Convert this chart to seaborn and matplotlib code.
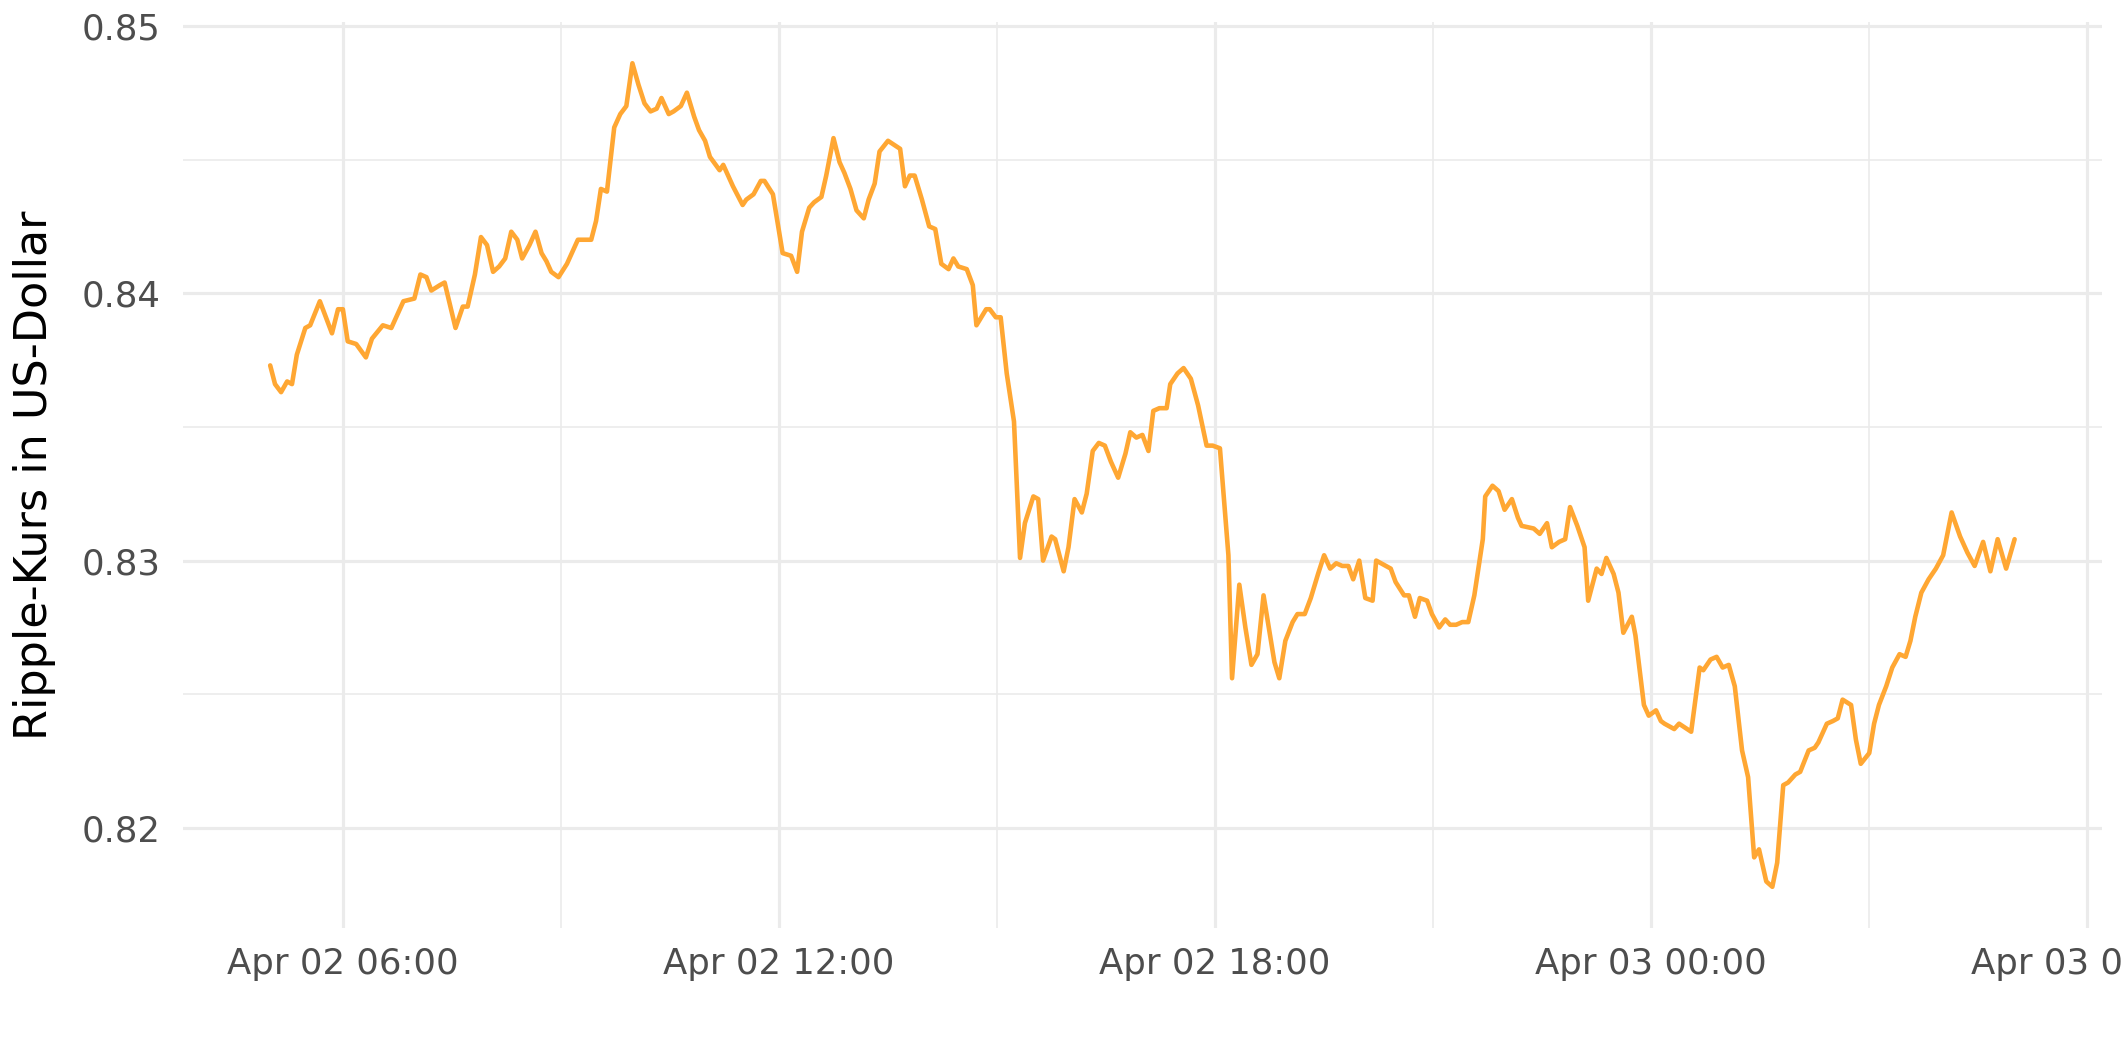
import numpy as np
import pandas as pd
import matplotlib.pyplot as plt
import matplotlib.dates as mdates
from matplotlib.ticker import MultipleLocator, FormatStrFormatter
import seaborn as sns

# Ripple price (timestamps in local time)
apr02_times = ["05:00", "05:04", "05:09", "05:14", "05:18", "05:22", "05:29", "05:33", "05:41", "05:51",
               "05:56", "06:00", "06:04", "06:11", "06:19", "06:24", "06:33", "06:40", "06:50", "06:59",
               "07:04", "07:09", "07:13", "07:20", "07:24", "07:33", "07:39", "07:43", "07:49", "07:54",
               "07:59", "08:04", "08:09", "08:14", "08:19", "08:24", "08:28", "08:34", "08:39", "08:44",
               "08:48", "08:52", "08:58", "09:05", "09:14", "09:25", "09:29", "09:33", "09:38", "09:44",
               "09:49", "09:54", "09:59", "10:04", "10:09", "10:14", "10:19", "10:23", "10:29", "10:33",
               "10:39", "10:44", "10:50", "10:54", "10:59", "11:03", "11:11", "11:14", "11:22", "11:30",
               "11:33", "11:39", "11:45", "11:48", "11:55", "12:03", "12:10", "12:15", "12:19", "12:25",
               "12:29", "12:35", "12:39", "12:45", "12:50", "12:54", "12:59", "13:04", "13:10", "13:14",
               "13:19", "13:23", "13:30", "13:40", "13:44", "13:48", "13:52", "13:58", "14:04", "14:09",
               "14:14", "14:20", "14:24", "14:28", "14:35", "14:40", "14:43", "14:51", "14:54", "14:59",
               "15:03", "15:08", "15:14", "15:19", "15:23", "15:30", "15:34", "15:38", "15:45", "15:48",
               "15:55", "15:59", "16:04", "16:10", "16:14", "16:19", "16:24", "16:29", "16:34", "16:40",
               "16:46", "16:50", "16:55", "17:00", "17:05", "17:09", "17:14", "17:20", "17:23", "17:29",
               "17:34", "17:40", "17:46", "17:53", "17:58", "18:04", "18:11", "18:14", "18:20", "18:25",
               "18:30", "18:35", "18:40", "18:49", "18:53", "18:58", "19:04", "19:08", "19:14", "19:19",
               "19:25", "19:30", "19:35", "19:40", "19:45", "19:50", "19:54", "19:59", "20:04", "20:10",
               "20:13", "20:17", "20:25", "20:29", "20:36", "20:40", "20:45", "20:49", "20:55", "20:59",
               "21:05", "21:10", "21:14", "21:19", "21:24", "21:29", "21:34", "21:38", "21:41", "21:43",
               "21:49", "21:54", "21:59", "22:05", "22:10", "22:13", "22:23", "22:28", "22:34", "22:38",
               "22:44", "22:49", "22:53", "22:59", "23:02", "23:05", "23:08", "23:15", "23:19", "23:23",
               "23:29", "23:33", "23:37", "23:44", "23:47", "23:54", "23:58"]
apr02_prices = [0.8373, 0.8366, 0.8363, 0.8367, 0.8366, 0.8377, 0.8387, 0.8388, 0.8397, 0.8385,
                0.8394, 0.8394, 0.8382, 0.8381, 0.8376, 0.8383, 0.8388, 0.8387, 0.8397, 0.8398,
                0.8407, 0.8406, 0.8401, 0.8403, 0.8404, 0.8387, 0.8395, 0.8395, 0.8407, 0.8421,
                0.8418, 0.8408, 0.8410, 0.8413, 0.8423, 0.8420, 0.8413, 0.8418, 0.8423, 0.8415,
                0.8412, 0.8408, 0.8406, 0.8411, 0.8420, 0.8420, 0.8427, 0.8439, 0.8438, 0.8462,
                0.8467, 0.8470, 0.8486, 0.8478, 0.8471, 0.8468, 0.8469, 0.8473, 0.8467, 0.8468,
                0.8470, 0.8475, 0.8466, 0.8461, 0.8457, 0.8451, 0.8446, 0.8448, 0.8440, 0.8433,
                0.8435, 0.8437, 0.8442, 0.8442, 0.8437, 0.8415, 0.8414, 0.8408, 0.8423, 0.8432,
                0.8434, 0.8436, 0.8444, 0.8458, 0.8449, 0.8445, 0.8439, 0.8431, 0.8428, 0.8435,
                0.8441, 0.8453, 0.8457, 0.8454, 0.8440, 0.8444, 0.8444, 0.8435, 0.8425, 0.8424,
                0.8411, 0.8409, 0.8413, 0.8410, 0.8409, 0.8403, 0.8388, 0.8394, 0.8394, 0.8391,
                0.8391, 0.8370, 0.8352, 0.8301, 0.8314, 0.8324, 0.8323, 0.8300, 0.8309, 0.8308,
                0.8296, 0.8305, 0.8323, 0.8318, 0.8325, 0.8341, 0.8344, 0.8343, 0.8337, 0.8331,
                0.8340, 0.8348, 0.8346, 0.8347, 0.8341, 0.8356, 0.8357, 0.8357, 0.8366, 0.8370,
                0.8372, 0.8368, 0.8358, 0.8343, 0.8343, 0.8342, 0.8302, 0.8256, 0.8291, 0.8275,
                0.8261, 0.8265, 0.8287, 0.8262, 0.8256, 0.8270, 0.8277, 0.8280, 0.8280, 0.8286,
                0.8295, 0.8302, 0.8297, 0.8299, 0.8298, 0.8298, 0.8293, 0.8300, 0.8286, 0.8285,
                0.8300, 0.8299, 0.8297, 0.8292, 0.8287, 0.8287, 0.8279, 0.8286, 0.8285, 0.8280,
                0.8275, 0.8278, 0.8276, 0.8276, 0.8277, 0.8277, 0.8287, 0.8299, 0.8308, 0.8324,
                0.8328, 0.8326, 0.8319, 0.8323, 0.8316, 0.8313, 0.8312, 0.8310, 0.8314, 0.8305,
                0.8307, 0.8308, 0.8320, 0.8313, 0.8309, 0.8305, 0.8285, 0.8297, 0.8295, 0.8301,
                0.8295, 0.8288, 0.8273, 0.8279, 0.8272, 0.8246, 0.8242]
apr03_times = ["00:04", "00:08", "00:11", "00:19", "00:23", "00:33", "00:40", "00:43", "00:49", "00:54",
               "00:59", "01:04", "01:09", "01:15", "01:20", "01:25", "01:29", "01:35", "01:40", "01:44",
               "01:49", "01:53", "01:59", "02:03", "02:10", "02:15", "02:18", "02:25", "02:30", "02:34",
               "02:38", "02:45", "02:49", "02:53", "03:00", "03:04", "03:08", "03:14", "03:19", "03:25",
               "03:30", "03:34", "03:38", "03:43", "03:49", "03:55", "04:01", "04:08", "04:15", "04:21",
               "04:27", "04:34", "04:40", "04:46", "04:53", "05:00"]
apr03_prices = [0.8244, 0.8240, 0.8239, 0.8237, 0.8239, 0.8236, 0.8260, 0.8259, 0.8263, 0.8264,
                0.8260, 0.8261, 0.8253, 0.8229, 0.8219, 0.8189, 0.8192, 0.8180, 0.8178, 0.8187,
                0.8216, 0.8217, 0.8220, 0.8221, 0.8229, 0.8230, 0.8232, 0.8239, 0.8240, 0.8241,
                0.8248, 0.8246, 0.8233, 0.8224, 0.8228, 0.8239, 0.8246, 0.8253, 0.8260, 0.8265,
                0.8264, 0.8270, 0.8279, 0.8288, 0.8293, 0.8297, 0.8302, 0.8318, 0.8309, 0.8303,
                0.8298, 0.8307, 0.8296, 0.8308, 0.8297, 0.8308]

df = pd.DataFrame({
    "Zeit": pd.to_datetime(["2021-04-02 " + t for t in apr02_times] + ["2021-04-03 " + t for t in apr03_times]),
    "Kurs": apr02_prices + apr03_prices,
})

sns.set_theme(style="whitegrid")
plt.rcParams["font.family"] = ["DejaVu Sans"]

fig = plt.figure(figsize=(21.25, 10.62), dpi=100)
ax = fig.add_axes([0.0861, 0.1262, 0.903, 0.853])
sns.lineplot(data=df, x="Zeit", y="Kurs", color="#FFA733", linewidth=3.3, ax=ax)

# ggplot-like 5% expansion
t0, t1 = mdates.date2num(df["Zeit"].min()), mdates.date2num(df["Zeit"].max())
pad_t = 0.05 * (t1 - t0)
ax.set_xlim(t0 - pad_t, t1 + pad_t)
y0, y1 = df["Kurs"].min(), df["Kurs"].max()
pad_y = 0.05 * (y1 - y0)
ax.set_ylim(y0 - pad_y, y1 + pad_y)

ax.xaxis.set_major_locator(mdates.HourLocator(byhour=[0, 6, 12, 18]))
ax.xaxis.set_minor_locator(mdates.HourLocator(byhour=[3, 9, 15, 21]))
ax.xaxis.set_major_formatter(mdates.DateFormatter("%b %d %H:%M"))
ax.yaxis.set_major_locator(MultipleLocator(0.01))
ax.yaxis.set_minor_locator(MultipleLocator(0.005))
ax.yaxis.set_major_formatter(FormatStrFormatter("%.2f"))

ax.grid(which="major", color="#EBEBEB", linewidth=2.3)
ax.grid(which="minor", color="#EBEBEB", linewidth=1.2)
for s in ax.spines.values():
    s.set_visible(False)
ax.set_facecolor("white")
ax.tick_params(axis="both", which="both", length=0, labelsize=25.6, labelcolor="#4D4D4D")
ax.tick_params(axis="y", pad=16)
ax.tick_params(axis="x", pad=14)

ax.set_xlabel("")
ax.set_ylabel("Ripple-Kurs in US-Dollar", fontsize=32, color="black")
ax.yaxis.set_label_coords(-0.066, 0.5)

fig.savefig("out.png", dpi=100, facecolor="white")
